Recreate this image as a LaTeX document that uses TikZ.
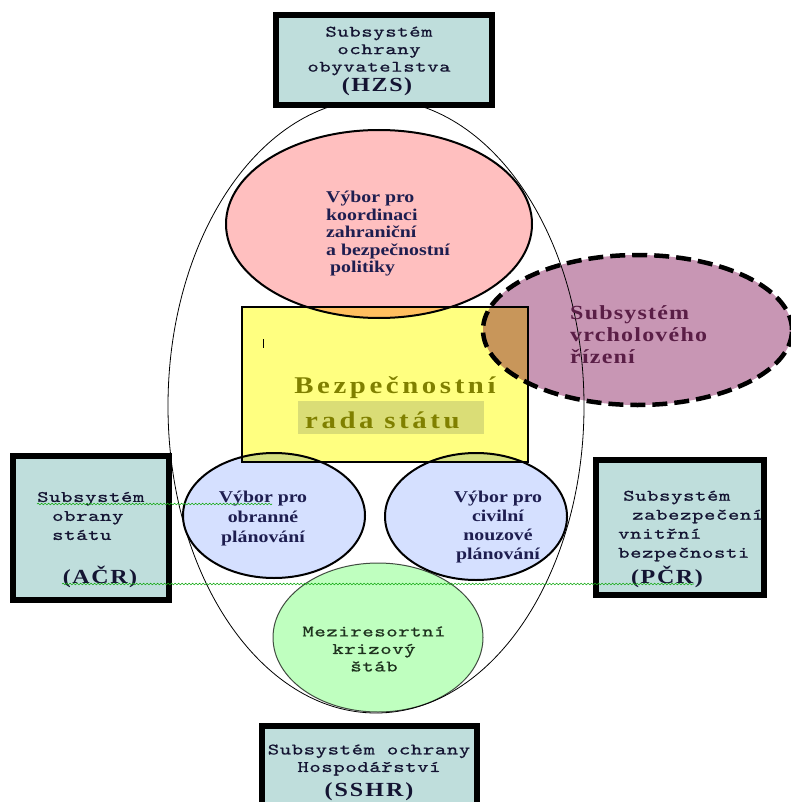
\documentclass[tikz,border=0pt]{standalone}
\usepackage{fontspec}
\setmainfont[FakeStretch=1.2]{Liberation Serif}
\newfontfamily\monofam[Extension=.otf, LetterSpace=4, FakeStretch=1.35, FakeBold=0.8]{lmmono10-regular}
\usetikzlibrary{shapes.geometric, decorations.pathmorphing}

\definecolor{boxcol}{RGB}{191,222,220}
\definecolor{pinkcol}{RGB}{255,191,191}
\definecolor{yellowcol}{RGB}{255,255,128}
\definecolor{purplecol}{RGB}{200,150,180}
\definecolor{bluecol}{RGB}{213,224,255}
\definecolor{greencol}{RGB}{191,255,191}
\definecolor{hlcol}{RGB}{218,221,118}
\definecolor{olivecol}{RGB}{128,128,0}
\definecolor{monocol}{RGB}{20,20,50}
\definecolor{navycol}{RGB}{30,30,80}
\definecolor{purpletext}{RGB}{90,30,70}
\definecolor{greentext}{RGB}{30,50,30}
\definecolor{spellcol}{RGB}{20,170,20}

\newcommand{\monotxt}{\monofam\fontsize{16}{19}\selectfont}
\newcommand{\sertxt}[3]{\fontsize{#1}{#2}\selectfont\bfseries\addfontfeature{LetterSpace=#3}}

\begin{document}
\begin{tikzpicture}[
      x=1pt, y=-1pt,
      subbox/.style={draw, line width=6.5pt, fill=boxcol, inner sep=0pt},
      oval/.style={ellipse, draw, line width=2pt, inner sep=0pt},
      mono/.style={font=\monotxt, text=monocol, inner sep=0pt},
      lab/.style={inner sep=0pt, text=navycol},
      spell/.style={decorate, decoration={snake, amplitude=0.8pt, segment length=3.5pt}, spellcol, line width=0.6pt}
    ]
      \path[use as bounding box, fill=white] (0,0) rectangle (791,802);

      % Outer frame
      \node[ellipse, draw, line width=0.8pt, minimum width=416pt, minimum height=614pt, inner sep=0pt] (frame) at (376,406) {};

      \begin{scope}[blend mode=multiply]
        % Committee for foreign and security policy
        \node[oval, fill=pinkcol, minimum width=306pt, minimum height=188pt] (kzbp) at (379,224) {};

        % State security council
        \node[draw, line width=1.2pt, fill=yellowcol, minimum width=286pt, minimum height=155pt, inner sep=0pt] (brs) at (385,384.5) {};

        % Top management subsystem
        \node[ellipse, draw, line width=4.5pt, dash pattern=on 15pt off 7pt, fill=purplecol, minimum width=309pt, minimum height=150pt, inner sep=0pt] (svr) at (637.5,330) {};

        % Defence and civil emergency planning
        \node[oval, fill=bluecol, minimum width=182pt, minimum height=125pt] (vop) at (274,515.5) {};
        \node[oval, fill=bluecol, minimum width=182pt, minimum height=127pt] (vcnp) at (476,516.5) {};

        % Crisis staff
        \node[ellipse, draw=gray!60!black, line width=1pt, fill=greencol, minimum width=210pt, minimum height=149pt, inner sep=0pt] (mks) at (378,637.5) {};
      \end{scope}

      % Subsystem boxes
      \node[subbox, minimum width=216pt, minimum height=90pt] (hzs) at (384,60) {};
      \node[subbox, minimum width=156pt, minimum height=144pt] (acr) at (91,528) {};
      \node[subbox, minimum width=168pt, minimum height=135pt] (pcr) at (680,527.5) {};
      \node[subbox, minimum width=215pt, minimum height=120pt] (sshr) at (369.5,786) {};

      % Box texts
      \node[mono, align=center] (hzstxt) at (379,51) {Subsystém\\[-1.5pt]ochrany\\[-1.5pt]obyvatelstva};
      \node[lab, anchor=base, text=monocol, font=\sertxt{20}{22}{8}] (hzsabbr) at (377,92) {(HZS)};
      \node[mono, align=left, anchor=west] (acrtxt) at (37,516) {Subsystém\\\hspace*{15pt}obrany\\\hspace*{15pt}státu};
      \node[lab, text=monocol, font=\sertxt{20}{22}{8}] (acrabbr) at (100,577) {(AČR)};
      \node[mono, align=left, anchor=west] (pcrtxt) at (618,526) {\hspace*{5pt}Subsystém\\\hspace*{14pt}zabezpečení\\vnitřní\\bezpečnosti};
      \node[lab, text=monocol, font=\sertxt{20}{22}{8}] (pcrabbr) at (667,577) {(PČR)};
      \node[mono, align=center] (sshrtxt) at (369,760) {Subsystém ochrany\\[-1.5pt]Hospodářství};
      \node[lab, text=monocol, font=\sertxt{20}{22}{10}] (sshrabbr) at (369,792) {(SSHR)};

      % Ellipse texts
      \node[lab, align=left, anchor=west, font=\sertxt{16.5}{17.5}{0}] (kzbptxt) at (326,234) {Výbor pro\\koordinaci\\zahraniční\\a bezpečnostní\\\hspace*{4pt}politiky};
      \node[lab, align=left, anchor=west, text=purpletext, font=\sertxt{20}{22}{6}] (svrtxt) at (570,335) {Subsystém\\vrcholového\\řízení};
      \node[lab, align=center, font=\sertxt{16.5}{20}{0}] (voptxt) at (263,519) {Výbor pro\\obranné\\plánování};
      \node[lab, align=center, font=\sertxt{16.5}{19}{0}] (vcnptxt) at (498,527) {Výbor pro\\civilní\\nouzové\\plánování};
      \node[mono, align=center, text=greentext] (mkstxt) at (374,649) {Meziresortní\\[-1.5pt]krizový\\[-1.5pt]štáb};

      % Council title
      \node[fill=hlcol, inner sep=0pt, minimum width=186pt, minimum height=33pt] (hl) at (391,417.5) {};
      \node[lab, anchor=base, text=olivecol, font=\sertxt{24}{26}{15}] (bez) at (395,393) {Bezpečnostní};
      \node[lab, anchor=base west, text=olivecol, font=\sertxt{24}{26}{15}] (rada) at (305,428) {rada státu};
      \draw[line width=1pt] (263,339) -- (263,348);

      % Spelling marks
      \coordinate (w1a) at (37,504);
      \coordinate (w1b) at (272,504);
      \coordinate (w2a) at (62,584);
      \coordinate (w2b) at (694,584);
      \draw[spell] (w1a) -- (w1b);
      \draw[spell] (w2a) -- (w2b);
    \end{tikzpicture}
\end{document}
